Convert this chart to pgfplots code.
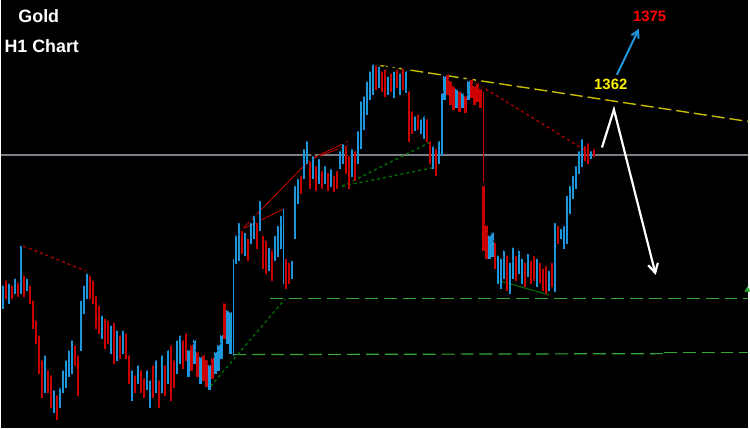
\documentclass[border=0pt]{standalone}
\usepackage{pgfplots}
\pgfplotsset{compat=1.18}
\usepackage{pgfplotstable}
\usepackage{fontspec}
\setmainfont{Liberation Sans}
\usetikzlibrary{arrows.meta}
\definecolor{cblue}{RGB}{30,150,220}
\definecolor{cred}{RGB}{205,0,0}
\definecolor{dred}{RGB}{175,0,0}
\definecolor{dgreen}{RGB}{0,115,0}
\definecolor{lgreen}{RGB}{50,170,50}
\definecolor{ylw}{RGB}{200,190,0}
\definecolor{hgray}{RGB}{125,125,135}

\pgfplotstableread{
x t b
2 285 310
8 283 305
14 278 295
20 245 295
26 278 292
44 355 395
53 390 415
59 388 410
62 370 395
65 360 390
68 350 378
71 340 375
80 300 352
83 285 315
86 273 300
101 315 340
110 325 355
116 330 362
122 330 355
131 370 403
137 365 385
146 370 392
149 380 410
155 360 395
161 355 395
167 350 385
176 340 375
179 335 365
188 350 378
194 340 365
200 357 385
209 365 392
215 352 375
218 345 372
221 335 360
227 310 345
230 312 355
236 235 265
239 222 262
245 232 257
251 222 245
254 215 240
260 200 232
269 247 272
275 235 262
278 225 258
281 215 250
292 260 280
295 185 240
298 178 205
304 148 180
307 140 165
313 155 180
319 158 185
325 165 185
331 168 188
340 150 170
343 143 165
352 148 178
358 130 165
361 100 150
364 95 130
367 80 115
370 70 100
373 63 95
379 65 88
388 75 95
394 70 98
400 72 95
406 70 93
415 115 132
421 118 135
424 115 140
433 145 170
439 140 165
442 92 157
445 75 100
457 88 108
463 92 108
469 80 100
490 235 260
493 232 258
499 255 285
502 258 290
505 250 280
511 262 295
514 247 280
520 250 275
523 258 285
529 253 278
538 258 288
550 270 292
556 222 293
562 228 240
565 225 250
568 195 245
571 185 215
574 175 200
577 165 190
580 150 175
583 138 168
592 150 160
}\bluetab

\pgfplotstableread{
x t b
5 280 300
11 285 300
17 282 298
23 275 298
29 285 305
32 300 330
35 320 345
38 335 375
41 360 400
47 370 395
50 375 410
56 395 422
74 345 367
77 355 398
89 275 300
92 280 305
95 295 330
98 305 335
104 318 350
107 320 345
113 322 365
119 335 360
125 333 360
128 355 385
134 375 395
140 370 395
143 378 400
152 365 400
158 380 410
164 365 398
170 345 403
173 360 390
182 340 370
185 333 362
191 345 372
197 352 378
203 355 382
206 360 388
212 358 380
224 303 340
242 230 255
248 238 262
257 222 250
263 235 270
266 240 275
272 250 282
286 258 290
289 262 285
301 175 195
310 160 190
316 165 192
322 170 190
328 172 192
334 175 193
337 170 190
346 145 175
349 155 190
355 150 182
376 64 90
382 70 92
385 68 97
391 72 92
397 68 88
403 67 90
409 90 143
412 110 135
418 113 130
427 118 143
430 140 165
436 148 177
448 73 95
451 80 105
454 85 110
460 90 112
466 95 113
472 78 98
475 85 105
478 82 102
481 88 108
484 185 252
487 225 260
496 242 270
508 255 292
517 255 282
526 262 288
532 260 285
535 255 282
541 262 284
544 268 292
547 265 295
553 262 288
559 225 245
586 145 162
589 142 165
595 148 158
}\redtab

\begin{document}
\begin{tikzpicture}
\begin{axis}[
  width=750bp, height=430bp, scale only axis,
  xmin=0, xmax=750, ymin=0, ymax=430, y dir=reverse,
  axis lines=none, clip=false,
]
\fill[black] (rel axis cs:0,0) rectangle (rel axis cs:1,1);
% horizontal gray line
\addplot[hgray, line width=2bp] coordinates {(0,156) (750,156)};
% green dashed levels
\addplot[lgreen, line width=1.2bp, dash pattern=on 13bp off 6bp] coordinates {(270,300) (750,300)};
\addplot[lgreen, line width=1.2bp, dash pattern=on 13bp off 6bp] coordinates {(233,356) (665,355)};
\addplot[lgreen, line width=1.2bp, dash pattern=on 13bp off 6bp] coordinates {(665,354) (750,354)};
\addplot[lgreen, mark=triangle*, mark size=3bp, only marks] coordinates {(749,291)};
% yellow trendline
\addplot[ylw, line width=1.4bp, dash pattern=on 13bp off 5bp] coordinates {(375,65) (750,122)};
% red dotted
\addplot[dred, line width=1.3bp, dash pattern=on 3bp off 3bp] coordinates {(22,247) (90,274)};
\addplot[dred, line width=1.3bp, dash pattern=on 3bp off 3bp] coordinates {(476,83) (588,152)};
% green dotted
\addplot[dgreen, line width=1.3bp, dash pattern=on 3bp off 3bp] coordinates {(210,388) (285,300)};
\addplot[dgreen, line width=1.3bp, dash pattern=on 3bp off 3bp] coordinates {(342,187) (430,143)};
\addplot[dgreen, line width=1.3bp, dash pattern=on 3bp off 3bp] coordinates {(342,187) (435,168)};
% dark green solid
\addplot[dgreen, line width=1bp] coordinates {(500,282) (550,296)};
% red thin lines
\addplot[cred, line width=0.8bp] coordinates {(242,230) (283,210)};
\addplot[cred, line width=0.8bp] coordinates {(242,230) (310,160) (348,142)};
\addplot[cred, line width=0.8bp] coordinates {(310,160) (348,146)};
% thin tall wicks
\addplot[cblue, line width=1bp] coordinates {(233,260) (233,357)};
\addplot[cblue, line width=1bp] coordinates {(283,210) (283,285)};
\addplot[cred, line width=1bp] coordinates {(484,92) (484,190)};
% candles
\addplot[only marks, mark=none, error bars/.cd, y dir=plus, y explicit, error mark=none,
  error bar style={line width=2.2bp, color=cblue}]
  table[x=x, y=t, y error expr=\thisrow{b}-\thisrow{t}] {\bluetab};
\addplot[only marks, mark=none, error bars/.cd, y dir=plus, y explicit, error mark=none,
  error bar style={line width=2.2bp, color=cred}]
  table[x=x, y=t, y error expr=\thisrow{b}-\thisrow{t}] {\redtab};
% arrows
\addplot[white, line width=2.2bp, -{Straight Barb[length=9bp,width=10bp]}] coordinates {(603,148) (615,110) (657,276)};
\addplot[cblue, line width=2bp, -{Straight Barb[length=7bp,width=8bp]}] coordinates {(618,75) (640,29)};
% texts
\node[anchor=base west, inner sep=0, white, font=\fontsize{18}{20}\selectfont\bfseries] at (axis cs:17,23) {Gold};
\node[anchor=base west, inner sep=0, white, font=\fontsize{18}{20}\selectfont\bfseries] at (axis cs:3,53) {H1 Chart};
\node[anchor=base west, inner sep=0, yellow, font=\fontsize{15}{17}\selectfont\bfseries] at (axis cs:595,90) {1362};
\node[anchor=base west, inner sep=0, red, font=\fontsize{15}{17}\selectfont\bfseries] at (axis cs:634,22) {1375};
\end{axis}
\end{tikzpicture}
\end{document}
